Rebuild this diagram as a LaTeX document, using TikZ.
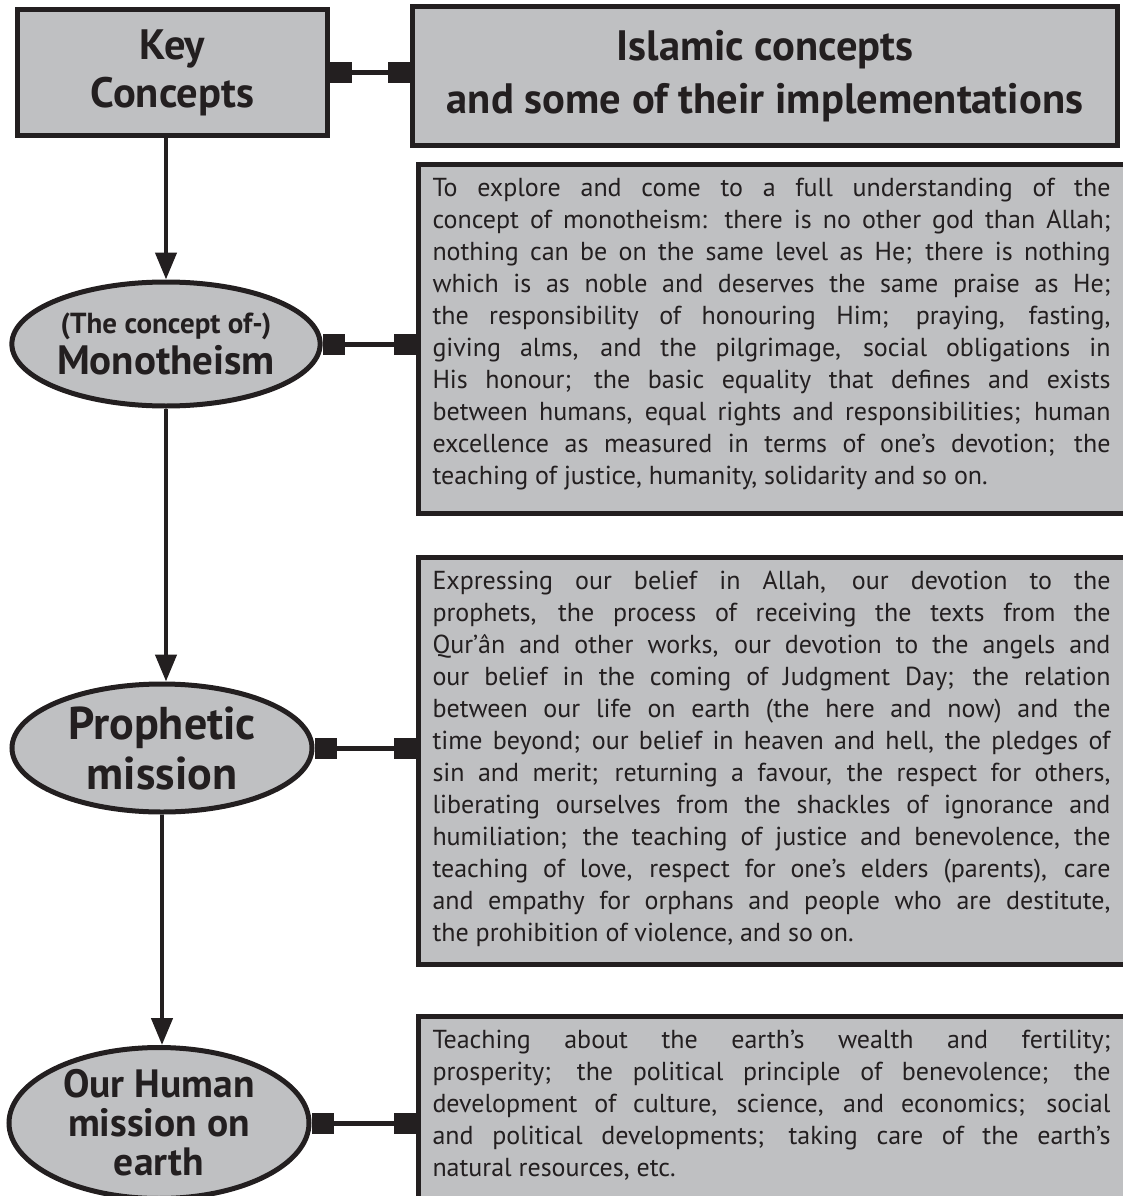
\documentclass[tikz,border=0pt]{standalone}
\usepackage{fontspec}
\setmainfont{PT Sans}
\usetikzlibrary{shapes.geometric,arrows.meta}
\definecolor{boxgray}{RGB}{191,192,194}
\definecolor{inkdark}{RGB}{35,31,32}
\tolerance=10000
\hyphenpenalty=10000
\hbadness=10000
\tikzset{
  headbox/.style={draw=inkdark, line width=5pt, fill=boxgray, text=inkdark,
    align=center, inner sep=0pt},
  concept/.style={ellipse, draw=inkdark, line width=5pt, fill=boxgray,
    text=inkdark, align=center, inner sep=0pt},
  textbox/.style={draw=inkdark, line width=5pt, fill=boxgray, text=inkdark,
    anchor=north west, text width=678pt, inner xsep=14.5pt, inner ysep=10pt,
    text height=22pt, align=justify, font=\fontsize{26}{32}\selectfont},
  flow/.style={draw=inkdark, line width=4.5pt, -{Triangle[length=27pt,width=21pt]}},
  link/.style={draw=inkdark, line width=5pt,
    {Square[length=22pt,width=21pt]}-{Square[length=22pt,width=21pt]}},
}
\begin{document}
\begin{tikzpicture}[x=1pt,y=-1pt]
  \useasboundingbox (0,0) rectangle (1122,1196);
  % headings
  \node[headbox, minimum width=310pt, minimum height=126.5pt,
    font=\bfseries\fontsize{42.5}{48}\selectfont] (key) at (172.5,72.75) {Key\\Concepts};
  \node[headbox, minimum width=705pt, minimum height=139pt,
    font=\bfseries\fontsize{42.5}{53}\selectfont] (head) at (765,76)
    {Islamic concepts\\and some of their implementations};
  % concepts
  \node[concept, minimum width=297pt, minimum height=124pt] (mono) at (166,344)
    {{\bfseries\fontsize{29}{30}\selectfont (The concept of-)}\\[4pt]
     {\bfseries\fontsize{41}{42}\selectfont Monotheism}};
  \node[concept, minimum width=300pt, minimum height=128pt,
    font=\bfseries\fontsize{46}{50}\selectfont] (proph) at (162,748) {Prophetic\\mission};
  \node[concept, minimum width=300pt, minimum height=140pt,
    font=\bfseries\fontsize{39.5}{39}\selectfont] (human) at (159,1123)
    {Our Human\\mission on\\earth};
  % implementations
  \node[textbox, text depth=306.5pt] (monotext) at (415.5,162) {%
    To explore and come to a full understanding of the\linebreak
    concept of monotheism: there is no other god than Allah;\linebreak
    nothing can be on the same level as He; there is nothing\linebreak
    which is as noble and deserves the same praise as He;\linebreak
    the responsibility of honouring Him; praying, fasting,\linebreak
    giving alms, and the pilgrimage, social obligations in\linebreak
    His honour; the basic equality that defines and exists\linebreak
    between humans, equal rights and responsibilities; human\linebreak
    excellence as measured in terms of one’s devotion; the\linebreak
    teaching of justice, humanity, solidarity and so on.};
  \node[textbox, text depth=365pt] (prophtext) at (415.5,555) {%
    Expressing our belief in Allah, our devotion to the\linebreak
    prophets, the process of receiving the texts from the\linebreak
    Qur’ân and other works, our devotion to the angels and\linebreak
    our belief in the coming of Judgment Day; the relation\linebreak
    between our life on earth (the here and now) and the\linebreak
    time beyond; our belief in heaven and hell, the pledges of\linebreak
    sin and merit; returning a favour, the respect for others,\linebreak
    liberating ourselves from the shackles of ignorance and\linebreak
    humiliation; the teaching of justice and benevolence, the\linebreak
    teaching of love, respect for one’s elders (parents), care\linebreak
    and empathy for orphans and people who are destitute,\linebreak
    the prohibition of violence, and so on.};
  \node[textbox, text depth=200pt] (humantext) at (415.5,1014) {%
    Teaching about the earth’s wealth and fertility;\linebreak
    prosperity; the political principle of benevolence; the\linebreak
    development of culture, science, and economics; social\linebreak
    and political developments; taking care of the earth’s\linebreak
    natural resources, etc.};
  % connectors
  \draw[link] (key.east) -- (key.east -| head.west);
  \draw[link] (mono.east) -- (mono.east -| monotext.west);
  \draw[link] (proph.east) -- (proph.east -| prophtext.west);
  \draw[link] (human.east) -- (human.east -| humantext.west);
  \draw[flow] (mono.north |- key.south) -- (mono.north);
  \draw[flow] (mono.south) -- (mono.south |- proph.north);
  \draw[flow] (proph.south) -- (proph.south |- human.north);
\end{tikzpicture}
\end{document}
